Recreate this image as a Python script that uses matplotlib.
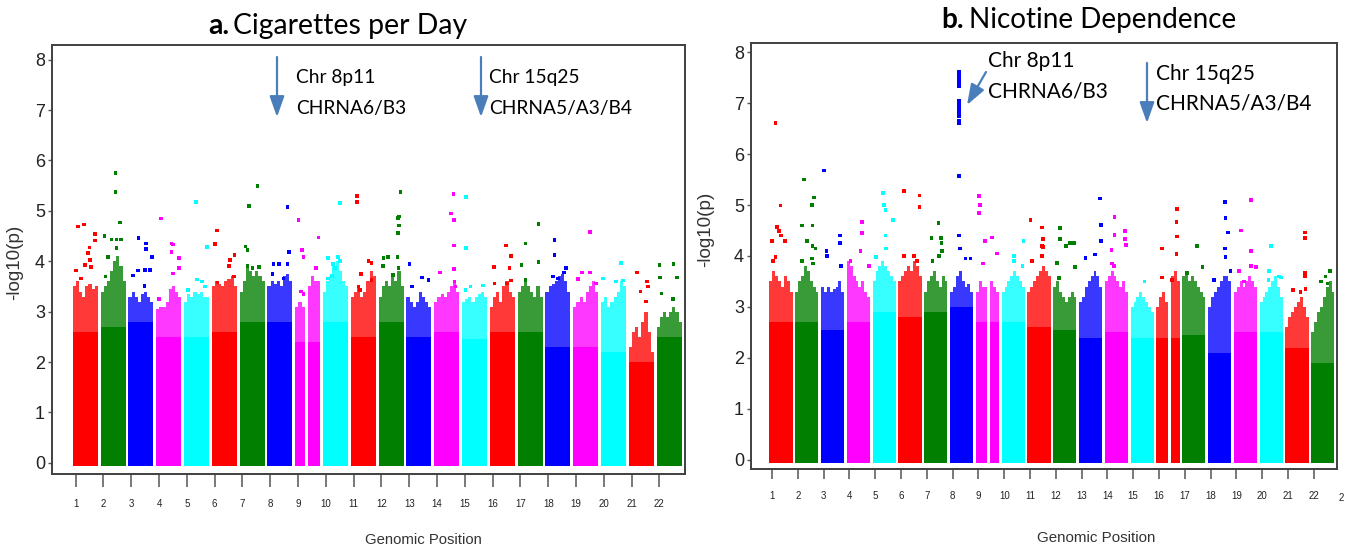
import matplotlib
matplotlib.use("Agg")
import matplotlib.pyplot as plt
import numpy as np

W, H = 1350, 553
fig = plt.figure(figsize=(W / 100, H / 100), dpi=100)

# ---------------- data ----------------
chrom_labels = [str(i) for i in range(1, 23)]
chrom_colors = ["#FF0000", "#007F00", "#0000FF", "#FF00FF", "#00FFFF"]
y_ticks = [0, 1, 2, 3, 4, 5, 6, 7, 8]

# Panel a: Cigarettes per Day
cpd_solid = [2.6, 2.7, 2.8, 2.5, 2.5, 2.6, 2.8, 2.8, 2.4, 2.8, 2.5,
             2.8, 2.5, 2.6, 2.45, 2.6, 2.6, 2.3, 2.3, 2.2, 2.0, 2.5]
cpd_env = [
    [3.5, 3.6, 3.4, 3.3, 3.5, 3.55, 3.45, 3.5],
    [3.4, 3.5, 3.6, 3.8, 4.0, 4.1, 3.9, 3.6],
    [3.3, 3.4, 3.3, 3.2, 3.35, 3.4, 3.3, 3.2],
    [3.05, 3.1, 3.1, 3.2, 3.45, 3.5, 3.4, 3.3],
    [3.2, 3.35, 3.3, 3.4, 3.35, 3.4, 3.3, 3.3],
    [3.5, 3.6, 3.55, 3.5, 3.6, 3.65, 3.7, 3.5],
    [3.4, 3.6, 3.9, 3.8, 3.7, 3.8, 3.7, 3.6],
    [3.5, 3.6, 3.55, 3.6, 3.5, 3.7, 3.75, 3.6],
    [3.1, 3.2, 3.1, 0.0, 3.5, 3.7, 3.6, 3.6],
    [3.4, 3.6, 3.7, 3.9, 4.0, 3.8, 3.6, 3.5],
    [3.3, 3.4, 3.5, 3.3, 3.4, 3.6, 3.8, 3.7],
    [3.3, 3.5, 3.6, 3.5, 3.7, 3.6, 3.8, 3.5],
    [3.3, 3.2, 3.1, 3.2, 3.4, 3.3, 3.2, 3.1],
    [3.2, 3.3, 3.35, 3.3, 3.4, 3.5, 3.6, 3.4],
    [3.2, 3.25, 3.3, 3.2, 3.3, 3.35, 3.4, 3.3],
    [3.1, 3.3, 3.4, 3.2, 3.5, 3.6, 3.4, 3.3],
    [3.4, 3.5, 3.6, 3.5, 3.4, 3.3, 3.5, 3.3],
    [3.4, 3.5, 3.55, 3.6, 3.7, 3.75, 3.6, 3.4],
    [3.1, 3.2, 3.3, 3.2, 3.4, 3.5, 3.6, 3.4],
    [3.2, 3.3, 3.1, 3.2, 3.3, 3.4, 3.6, 3.5],
    [2.3, 2.6, 2.7, 2.5, 2.8, 3.0, 2.6, 2.2],
    [2.7, 2.9, 3.0, 2.9, 3.0, 3.1, 3.0, 2.8],
]
cpd_hit_chr = [1] * 11 + [2] * 10 + [3] * 9 + [4] * 8 + [5] * 6 + [6] * 7 + [7] * 7 + [8] * 7 + \
    [9] * 7 + [10] * 8 + [11] * 8 + [12] * 11 + [13] * 4 + [14] * 8 + [15] * 5 + [16] * 7 + \
    [17] * 5 + [18] * 6 + [19] * 5 + [20] * 4 + [21] * 5 + [22] * 6
cpd_hit_pos = [0.21, 0.45, 0.88, 0.88, 0.67, 0.61, 0.68, 0.48, 0.72, 0.13, 0.32,
               0.60, 0.60, 0.77, 0.15, 0.44, 0.64, 0.80, 0.64, 0.30, 0.20,
               0.40, 0.69, 0.69, 0.93, 0.37, 0.18, 0.66, 0.86, 0.64,
               0.19, 0.61, 0.68, 0.61, 0.92, 0.91, 0.68, 0.11,
               0.47, 0.92, 0.51, 0.71, 0.84, 0.17,
               0.20, 0.13, 0.91, 0.73, 0.69, 0.88, 0.22,
               0.72, 0.37, 0.24, 0.32, 0.32, 0.52, 0.77,
               0.80, 0.87, 0.24, 0.47, 0.80, 0.20, 0.64,
               0.13, 0.26, 0.33, 0.93, 0.84, 0.22, 0.33,
               0.68, 0.19, 0.59, 0.68, 0.41, 0.48, 0.21, 0.35,
               0.24, 0.24, 0.70, 0.83, 0.41, 0.31, 0.37, 0.83,
               0.87, 0.81, 0.77, 0.81, 0.77, 0.75, 0.20, 0.37, 0.17, 0.57, 0.79,
               0.12, 0.61, 0.88, 0.23,
               0.77, 0.67, 0.79, 0.79, 0.79, 0.24, 0.81, 0.85,
               0.17, 0.17, 0.34, 0.83, 0.14,
               0.65, 0.85, 0.17, 0.79, 0.19, 0.68, 0.85,
               0.84, 0.32, 0.84, 0.15, 0.32,
               0.36, 0.36, 0.83, 0.73, 0.29, 0.49,
               0.68, 0.35, 0.68, 0.19, 0.92,
               0.81, 0.08, 0.61, 0.88,
               0.33, 0.72, 0.76, 0.47, 0.69,
               0.12, 0.68, 0.81, 0.13, 0.20, 0.65]
cpd_hit_val = [4.69, 4.73, 4.54, 4.41, 4.27, 4.16, 4.03, 3.93, 3.88, 3.82, 3.66,
               5.75, 5.38, 4.77, 4.50, 4.43, 4.43, 4.43, 4.26, 4.08, 3.70,
               4.46, 4.35, 4.24, 4.08, 3.82, 3.72, 3.83, 3.83, 3.51,
               4.85, 4.35, 4.33, 4.18, 4.06, 3.86, 3.76, 3.25,
               5.17, 4.28, 3.64, 3.60, 3.50, 3.43,
               4.61, 4.34, 4.12, 4.03, 3.90, 3.70, 3.58,
               5.49, 5.10, 4.29, 4.23, 3.90, 3.86, 3.88,
               5.07, 4.19, 3.95, 3.94, 3.95, 3.75, 3.66,
               4.82, 4.23, 4.09, 4.47, 3.86, 3.40, 3.35,
               5.15, 4.07, 4.08, 4.01, 3.95, 3.86, 3.66, 3.71,
               5.30, 5.18, 4.01, 3.96, 3.75, 3.50, 3.43, 3.63,
               5.37, 4.89, 4.86, 4.71, 4.56, 4.08, 4.07, 4.09, 3.90, 3.73, 3.86,
               3.95, 3.68, 3.63, 3.50,
               5.34, 4.95, 4.82, 4.31, 3.85, 3.78, 3.60, 3.50,
               5.27, 4.26, 3.50, 3.52, 3.43,
               4.31, 4.11, 3.88, 3.86, 3.56, 3.56, 3.62,
               4.74, 4.35, 3.98, 3.93, 3.63,
               4.42, 4.13, 3.86, 3.78, 3.70, 3.66,
               4.58, 3.78, 3.78, 3.65, 3.56,
               3.96, 3.66, 3.60, 3.62,
               3.78, 3.60, 3.50, 3.40, 3.20,
               3.93, 3.95, 3.68, 3.68, 3.36, 3.25]

# Panel b: Nicotine Dependence
nd_solid = [2.7, 2.7, 2.55, 2.7, 2.9, 2.8, 2.9, 3.0, 2.7, 2.7, 2.6,
            2.55, 2.4, 2.5, 2.4, 2.4, 2.45, 2.1, 2.5, 2.5, 2.2, 1.9]
nd_env = [
    [3.5, 3.7, 3.6, 3.5, 3.4, 3.6, 3.5, 3.3],
    [3.3, 3.5, 3.6, 3.8, 3.7, 3.5, 3.4, 3.3],
    [3.4, 3.3, 3.4, 3.3, 3.35, 3.4, 3.5, 3.3],
    [3.9, 3.8, 3.6, 3.5, 3.4, 3.5, 3.3, 3.2],
    [3.5, 3.7, 3.8, 3.9, 3.8, 3.7, 3.6, 3.5],
    [3.5, 3.6, 3.7, 3.8, 3.7, 3.9, 3.8, 3.6],
    [3.3, 3.5, 3.6, 3.7, 3.5, 3.4, 3.6, 3.5],
    [3.3, 3.4, 3.6, 3.7, 3.5, 3.4, 3.45, 3.3],
    [3.3, 3.5, 3.4, 3.4, 0.0, 3.5, 3.4, 3.3],
    [3.3, 3.4, 3.5, 3.6, 3.7, 3.6, 3.5, 3.4],
    [3.3, 3.4, 3.5, 3.6, 3.7, 3.8, 3.7, 3.6],
    [3.4, 3.5, 3.3, 3.2, 3.1, 3.2, 3.3, 3.2],
    [3.1, 3.2, 3.4, 3.5, 3.6, 3.7, 3.6, 3.4],
    [3.5, 3.6, 3.7, 3.6, 3.5, 3.4, 3.5, 3.3],
    [3.0, 3.1, 3.2, 3.3, 3.2, 3.1, 3.0, 2.9],
    [3.0, 3.2, 3.3, 3.1, 0.0, 3.6, 3.7, 3.5],
    [3.6, 3.7, 3.5, 3.6, 3.5, 3.4, 3.3, 3.2],
    [3.0, 3.2, 3.3, 3.4, 3.5, 3.6, 3.6, 3.5],
    [3.3, 3.4, 3.5, 3.4, 3.5, 3.6, 3.5, 3.4],
    [3.1, 3.2, 3.3, 3.4, 3.5, 3.6, 3.4, 3.2],
    [2.6, 2.8, 2.9, 3.0, 3.1, 3.2, 3.0, 2.8],
    [2.5, 2.7, 2.9, 3.0, 3.2, 3.4, 3.5, 3.3],
]
nd_hit_chr = [1] * 9 + [2] * 11 + [3] * 6 + [4] * 5 + [5] * 7 + [6] * 6 + [7] * 7 + [8] * 19 + \
    [9] * 7 + [10] * 4 + [11] * 7 + [12] * 8 + [13] * 5 + [14] * 8 + [15] * 1 + [16] * 7 + \
    [17] * 3 + [18] * 7 + [19] * 7 + [20] * 5 + [21] * 7 + [22] * 4
nd_hit_pos = [0.26, 0.48, 0.33, 0.41, 0.51, 0.12, 0.67, 0.26, 0.16,
              0.38, 0.81, 0.71, 0.30, 0.74, 0.52, 0.74, 0.88, 0.30, 0.71, 0.78,
              0.12, 0.82, 0.82, 0.24, 0.26, 0.85,
              0.64, 0.64, 0.59, 0.96, 0.16,
              0.45, 0.48, 0.55, 0.88, 0.55, 0.59, 0.16,
              0.23, 0.91, 0.91, 0.23, 0.67, 0.81,
              0.61, 0.71, 0.74, 0.32, 0.78, 0.64, 0.35,
              0.38, 0.38, 0.38, 0.38, 0.38, 0.38, 0.38, 0.38, 0.38, 0.38, 0.38, 0.38, 0.38, 0.38,
              0.38, 0.38, 0.42, 0.67, 0.88,
              0.13, 0.17, 0.13, 0.39, 0.71, 0.90, 0.30,
              0.94, 0.53, 0.53, 0.90,
              0.13, 0.64, 0.68, 0.64, 0.68, 0.20, 0.64,
              0.29, 0.29, 0.54, 0.72, 0.90, 0.93, 0.17, 0.25,
              0.91, 0.94, 0.94, 0.28, 0.69,
              0.42, 0.87, 0.87, 0.90, 0.42, 0.29, 0.32, 0.39,
              0.60,
              0.25, 0.90, 0.87, 0.90, 0.87, 0.25, 0.68,
              0.65, 0.87, 0.22,
              0.72, 0.75, 0.87, 0.72, 0.75, 0.97, 0.25,
              0.75, 0.32, 0.75, 0.75, 0.97, 0.22, 0.43,
              0.48, 0.41, 0.84, 0.91, 0.38,
              0.83, 0.83, 0.83, 0.83, 0.32, 0.65, 0.87,
              0.81, 0.62, 0.41, 0.70]
nd_hit_val = [6.61, 4.99, 4.57, 4.49, 4.40, 4.30, 4.30, 3.98, 3.90,
              5.50, 5.15, 5.00, 4.60, 4.60, 4.30, 4.20, 4.15, 3.90, 3.95, 3.85,
              5.68, 4.40, 4.25, 4.10, 4.00, 3.80,
              4.67, 4.45, 4.10, 3.80, 3.90,
              5.24, 5.00, 4.90, 4.70, 4.40, 4.15, 3.98,
              5.27, 5.19, 4.96, 4.00, 4.00, 3.90,
              4.65, 4.35, 4.25, 4.35, 4.10, 4.00, 3.90,
              7.62, 7.55, 7.48, 7.40, 7.33, 7.05, 7.00, 6.95, 6.90, 6.85, 6.80, 6.75, 6.65, 6.60,
              5.57, 4.40, 4.15, 3.95, 3.95,
              5.18, 5.00, 4.85, 4.30, 4.36, 4.05, 3.85,
              4.30, 4.00, 3.90, 3.80,
              4.71, 4.56, 4.33, 4.20, 4.18, 3.90, 4.00,
              4.55, 4.33, 4.20, 4.25, 4.25, 3.79, 3.86, 3.57,
              5.13, 4.61, 4.30, 3.96, 4.03,
              4.77, 4.49, 4.33, 4.22, 4.41, 4.12, 3.85, 3.80,
              3.50,
              4.15, 4.92, 4.67, 4.38, 4.04, 3.58, 3.53,
              4.19, 3.79, 3.66,
              5.06, 4.75, 4.46, 4.15, 3.98, 3.71, 3.53,
              5.10, 4.50, 4.10, 3.80, 3.78, 3.70, 3.50,
              4.19, 3.70, 3.60, 3.58, 3.53,
              4.46, 4.35, 3.67, 3.60, 3.33, 3.30, 3.35,
              3.71, 3.60, 3.50, 3.46]

# ---------------- style ----------------
TITLE_FONT = ["Lato", "DejaVu Sans"]
ARIAL = ["Liberation Sans", "DejaVu Sans"]
NARROW = ["Liberation Sans Narrow", "Liberation Sans", "DejaVu Sans"]
ARROW_C = "#4A7EBB"
FRAME_C = "#404040"
COLW = 0.9      # column width in chromosome units
XOFF = -0.1     # column start relative to tick
BASE = 0.07     # markers reach slightly below 0


def px_axes(l, t, r, b):
    return fig.add_axes([l / W, 1 - b / H, (r - l) / W, (b - t) / H])


def draw_panel(ax, solid, env, hchr, hpos, hval, xlim, ylim, ticklen):
    for i, (s, e) in enumerate(zip(solid, env)):
        c = chrom_colors[i % 5]
        e = np.asarray(e, float)
        nb = len(e)
        edges = (i + 1) + XOFF + np.linspace(0, COLW, nb + 1)
        low = np.minimum(s, e)
        low_s = np.append(low, low[-1])
        env_s = np.append(e, e[-1])
        base = np.where(low_s > 0, -BASE, 0.0)
        ax.fill_between(edges, base, low_s, step="post", color=c, lw=0, zorder=2)
        ax.fill_between(edges, low_s, env_s, step="post", color=c, alpha=0.78, lw=0, zorder=2)
    hc = np.asarray(hchr)
    xs = hc + XOFF + np.asarray(hpos) * COLW
    cols = [chrom_colors[(k - 1) % 5] for k in hc]
    ax.scatter(xs, hval, s=7, c=cols, marker="s", linewidths=0, zorder=3)
    ax.set_xlim(*xlim)
    ax.set_ylim(*ylim)
    ax.set_xticks(range(1, 23))
    ax.set_xticklabels(chrom_labels, fontfamily=NARROW, fontsize=7, color="#222222")
    ax.set_yticks(y_ticks)
    ax.set_yticklabels([str(v) for v in y_ticks], fontfamily=NARROW, fontsize=13, color="#222222")
    ax.tick_params(axis="x", direction="out", length=ticklen, width=1.1, color="#555555", pad=9)
    ax.tick_params(axis="y", direction="out", length=3, width=1.0, color="#555555", pad=2)
    for sp in ax.spines.values():
        sp.set_color(FRAME_C)
        sp.set_linewidth(1.4)


axA = px_axes(52, 45, 685, 474)
draw_panel(axA, cpd_solid, cpd_env, cpd_hit_chr, cpd_hit_pos, cpd_hit_val,
           (0.15, 22.92), (-0.22, 8.29), 9)
axB = px_axes(751, 43, 1337, 469)
draw_panel(axB, nd_solid, nd_env, nd_hit_chr, nd_hit_pos, nd_hit_val,
           (0.186, 22.9), (-0.18, 8.18), 7)

# ---------------- overlay text ----------------
ov = fig.add_axes([0, 0, 1, 1], zorder=10)
ov.set_xlim(0, W)
ov.set_ylim(H, 0)
ov.axis("off")
ov.patch.set_alpha(0)

renderer = fig.canvas.get_renderer()


def fit(t, target_w, use_height=False):
    bb = t.get_window_extent(renderer=renderer)
    w = bb.height if use_height else bb.width
    t.set_fontsize(t.get_fontsize() * target_w / w)
    return t.get_fontsize()


def ftext(x, y, s, **kw):
    return ov.text(x, y, s, **kw)


# titles
tA = ftext(233, 34, "Cigarettes per Day", ha="left", va="baseline", fontsize=20, family=TITLE_FONT)
fsA = fit(tA, 234)
ftext(229, 34, "a.", ha="right", va="baseline", fontsize=fsA, family=TITLE_FONT, fontweight="bold")
tB = ftext(969, 28, "Nicotine Dependence", ha="left", va="baseline", fontsize=20, family=TITLE_FONT)
fsB = fit(tB, 268)
ftext(964, 28, "b.", ha="right", va="baseline", fontsize=fsB, family=TITLE_FONT, fontweight="bold")

# annotations panel a
t = ftext(296, 114, "CHRNA6/B3", ha="left", va="baseline", fontsize=14, family=TITLE_FONT)
fsa = fit(t, 110)
ftext(296, 83, "Chr 8p11", ha="left", va="baseline", fontsize=fsa, family=TITLE_FONT)
ftext(489, 83, "Chr 15q25", ha="left", va="baseline", fontsize=fsa, family=TITLE_FONT)
ftext(489, 114, "CHRNA5/A3/B4", ha="left", va="baseline", fontsize=fsa, family=TITLE_FONT)
# annotations panel b
t = ftext(1156, 110, "CHRNA5/A3/B4", ha="left", va="baseline", fontsize=14, family=TITLE_FONT)
fsb = fit(t, 156)
ftext(1156, 80, "Chr 15q25", ha="left", va="baseline", fontsize=fsb, family=TITLE_FONT)
ftext(988, 67, "Chr 8p11", ha="left", va="baseline", fontsize=fsb, family=TITLE_FONT)
ftext(988, 98, "CHRNA6/B3", ha="left", va="baseline", fontsize=fsb, family=TITLE_FONT)

arrow_kw = dict(arrowstyle="-|>,head_length=0.9,head_width=0.32", color=ARROW_C, lw=1.6,
                shrinkA=0, shrinkB=0, mutation_scale=14)
for (x0, y0, x1, y1) in [(277, 57, 277, 117), (481, 57, 481, 117),
                         (986, 72, 967, 105), (1147, 63, 1147, 123)]:
    ov.annotate("", xy=(x1, y1), xytext=(x0, y0), arrowprops=arrow_kw)

# axis labels
t = ftext(423, 544, "Genomic Position", ha="center", va="baseline", fontsize=11, family=ARIAL, color="#333333")
fit(t, 116)
t = ftext(1096, 542, "Genomic Position", ha="center", va="baseline", fontsize=11, family=ARIAL, color="#333333")
fit(t, 118)
t = ftext(15, 262, "-log10(p)", ha="center", va="center", rotation=90, fontsize=12, family=ARIAL, color="#333333")
fit(t, 76, use_height=True)
t = ftext(706, 229, "-log10(p)", ha="center", va="center", rotation=90, fontsize=12, family=ARIAL, color="#333333")
fit(t, 76, use_height=True)
ftext(1339, 498, "2", ha="left", va="center", fontsize=7, family=NARROW, color="#222222")

fig.savefig("out.png", dpi=100, facecolor="white")
